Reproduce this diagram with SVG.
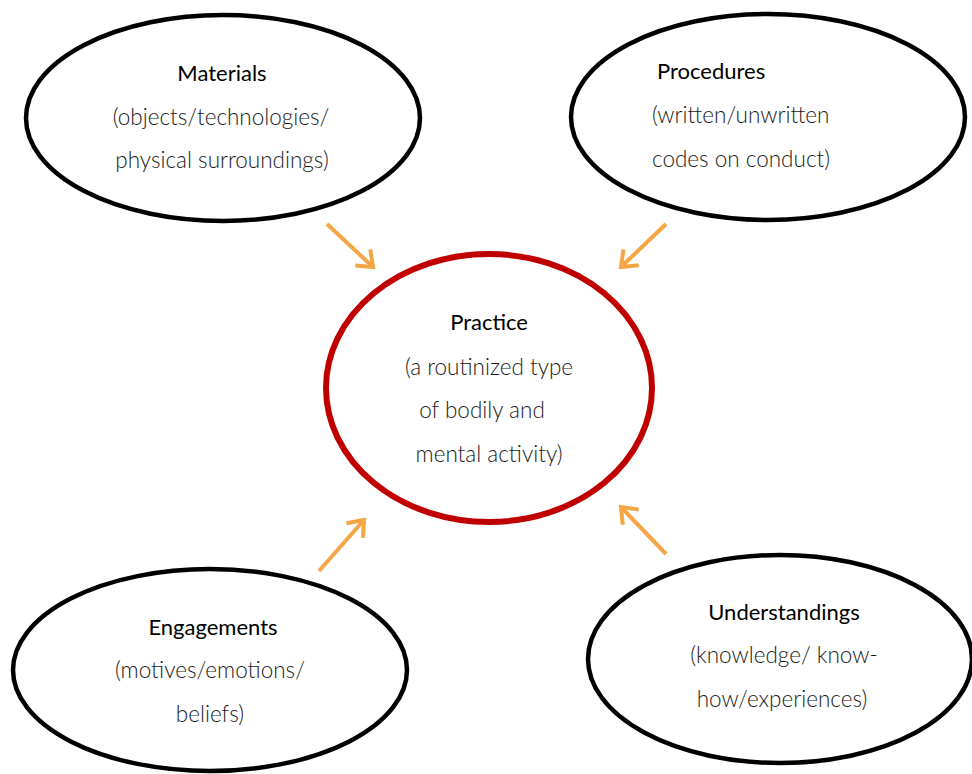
<svg xmlns="http://www.w3.org/2000/svg" width="972" height="774" viewBox="0 0 972 774">
  <style>
    .node { fill: #ffffff; stroke: #000000; stroke-width: 4.5; }
    .core { fill: #ffffff; stroke: #c00000; stroke-width: 6; }
    .title { font-family: Lato, "Liberation Sans", sans-serif; font-size: 22px; fill: #000000; }
    .body { font-family: Lato, "Liberation Sans", sans-serif; font-weight: 300; font-size: 22.5px; fill: #1a1a1a; }
    .mid { text-anchor: middle; }
    .arrow { stroke: #f4a646; stroke-width: 4; fill: none; }
  </style>
  <defs>
    <marker id="chevron" markerUnits="userSpaceOnUse" markerWidth="30" markerHeight="30" viewBox="-20 -15 24 30" refX="0" refY="0" orient="auto">
      <path d="M-14,-11 L0,0 L-14,11" fill="none" stroke="#f4a646" stroke-width="4"/>
    </marker>
  </defs>
  <rect width="972" height="774" fill="#ffffff"/>

  <!-- influences feeding into practice -->
  <g id="connectors">
    <line class="arrow" x1="327" y1="224" x2="373" y2="267" marker-end="url(#chevron)"/>
    <line class="arrow" x1="666" y1="224" x2="621" y2="267" marker-end="url(#chevron)"/>
    <line class="arrow" x1="319" y1="571" x2="364" y2="520" marker-end="url(#chevron)"/>
    <line class="arrow" x1="666" y1="554" x2="621" y2="507" marker-end="url(#chevron)"/>
  </g>

  <g id="materials">
    <ellipse class="node" cx="223" cy="118" rx="197" ry="103"/>
    <text class="title mid" x="222" y="81">Materials</text>
    <text class="body mid" x="221" y="125">(objects/technologies/</text>
    <text class="body mid" x="222" y="168">physical surroundings)</text>
  </g>

  <g id="procedures">
    <ellipse class="node" cx="768" cy="117" rx="197" ry="103"/>
    <text class="title" x="657" y="79">Procedures</text>
    <text class="body" x="652" y="123">(written/unwritten</text>
    <text class="body" x="652" y="167">codes on conduct)</text>
  </g>

  <g id="practice">
    <ellipse class="core" cx="489" cy="388" rx="163" ry="134"/>
    <text class="title mid" x="489" y="330">Practice</text>
    <text class="body mid" x="489" y="375">(a routinized type</text>
    <text class="body mid" x="482" y="418">of bodily and</text>
    <text class="body mid" x="489" y="462">mental activity)</text>
  </g>

  <g id="engagements">
    <ellipse class="node" cx="210" cy="670" rx="197" ry="101"/>
    <text class="title mid" x="213" y="635">Engagements</text>
    <text class="body mid" x="210" y="678">(motives/emotions/</text>
    <text class="body mid" x="210" y="722">beliefs)</text>
  </g>

  <g id="understandings">
    <ellipse class="node" cx="780" cy="659" rx="192" ry="104"/>
    <text class="title mid" x="784" y="620">Understandings</text>
    <text class="body mid" x="784" y="663">(knowledge/ know-</text>
    <text class="body mid" x="782" y="707">how/experiences)</text>
  </g>
</svg>
